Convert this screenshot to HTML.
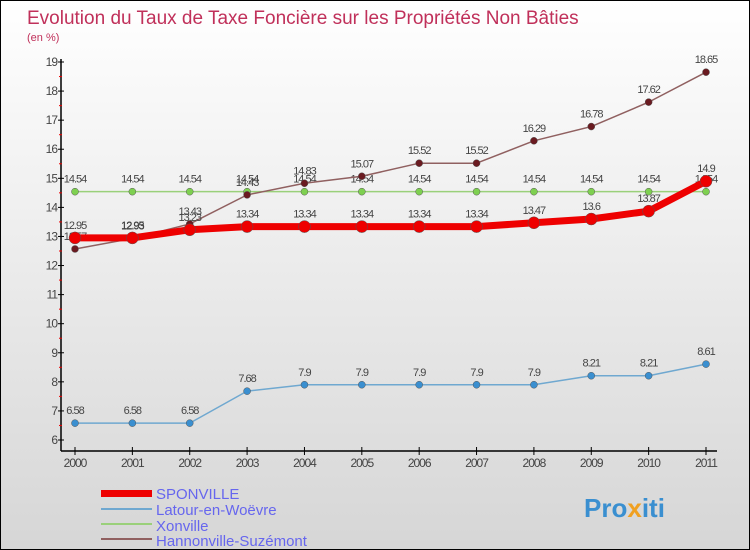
<!DOCTYPE html>
<html><head><meta charset="utf-8"><style>
body{margin:0}
#c{width:748px;height:548px;border:1px solid #000;background:linear-gradient(#fff,#d6d6d6);position:relative;font-family:"Liberation Sans",sans-serif;overflow:hidden}
svg text{font-family:"Liberation Sans",sans-serif}
</style></head><body>
<div id="c">
<svg width="748" height="548" id="s">
<text x="26" y="23" font-size="19" fill="#c0305a">Evolution du Taux de Taxe Foncière sur les Propriétés Non Bâties</text>
<text x="26" y="40" font-size="11" fill="#c0305a">(en %)</text>
<g id="g"></g>
<g>
<rect x="100" y="489" width="51" height="7" fill="#e00"/>
<text x="155" y="498" font-size="15" fill="#6666ee">SPONVILLE</text>
<rect x="100" y="507" width="51" height="2" fill="#6fa8d0"/>
<text x="155" y="514" font-size="15" fill="#6666ee">Latour-en-Woëvre</text>
<rect x="100" y="522" width="51" height="2" fill="#9ad07a"/>
<text x="155" y="530" font-size="15" fill="#6666ee">Xonville</text>
<rect x="100" y="537" width="51" height="2" fill="#906060"/>
<text x="155" y="545" font-size="15" fill="#6666ee">Hannonville-Suzémont</text>
</g>
<text x="583" y="516" font-size="26" font-weight="bold" fill="#3a8fd0">Pro<tspan fill="#f0a020">x</tspan>iti</text>
</svg></div>
<script>
const years=[2000,2001,2002,2003,2004,2005,2006,2007,2008,2009,2010,2011];
const sponville=[12.95,12.95,13.23,13.34,13.34,13.34,13.34,13.34,13.47,13.6,13.87,14.9];
const latour=[6.58,6.58,6.58,7.68,7.9,7.9,7.9,7.9,7.9,8.21,8.21,8.61];
const xonville=[14.54,14.54,14.54,14.54,14.54,14.54,14.54,14.54,14.54,14.54,14.54,14.54];
const hannon=[12.57,12.93,13.43,14.43,14.83,15.07,15.52,15.52,16.29,16.78,17.62,18.65];
const yTicks=[6,7,8,9,10,11,12,13,14,15,16,17,18,19];
const NS="http://www.w3.org/2000/svg";
const g=document.getElementById('g');
const X=i=>74+i*(631/11);
const Y=v=>439-(v-6)*(378/13);
function mk(t,a){const e=document.createElementNS(NS,t);for(const k in a)e.setAttribute(k,a[k]);g.appendChild(e);return e;}
let e=mk('line',{x1:60,y1:58,x2:60,y2:450,stroke:'#000','stroke-width':1.5});


e=mk('line',{x1:60,y1:450,x2:716,y2:450,stroke:'#000','stroke-width':1.5});


yTicks.forEach(v=>{
 mk('line',{x1:57,x2:63,y1:Y(v),y2:Y(v),stroke:'#000'});
 if(v<19)mk('line',{x1:58,x2:61,y1:Y(v+0.5),y2:Y(v+0.5),stroke:'#e00'});
 const t=mk('text',{x:56,y:Y(v)+4,'font-size':12,fill:'#444','text-anchor':'end','letter-spacing':'-1'});
 t.textContent=v;
 
 
});
years.forEach((yr,i)=>{
 mk('line',{x1:X(i),x2:X(i),y1:446,y2:454,stroke:'#000'});
 const t=mk('text',{x:X(i),y:466,'font-size':12,fill:'#444','text-anchor':'middle','letter-spacing':'-1'});
 t.textContent=yr;
 
 
});
function series(d,col,w,r,fill,name,lab){
 const p=mk('polyline',{points:d.map((v,i)=>X(i)+','+Y(v)).join(' '),fill:'none',stroke:col,'stroke-width':w,'stroke-linejoin':'round'});
 
 
 d.forEach((v,i)=>{
  const c=mk('circle',{cx:X(i),cy:Y(v),r:r,fill:fill,stroke:'#555','stroke-width':0.5});
  
  
  const t=mk('text',{x:X(i),y:Y(v)-9,'font-size':11,fill:'#444','text-anchor':'middle','letter-spacing':'-1'});
  t.textContent=v;
  
  
 });
}
series(latour,'#6fa8d0',1.5,3.5,'#3a8fd0','latour');
series(xonville,'#9ad07a',1.5,3.5,'#7ed050','xonville');
series(hannon,'#906060',1.5,3.5,'#6a1a20','hannonville');
series(sponville,'#ee0000',7,6,'#ee0000','sponville');
</script>
</body></html>
